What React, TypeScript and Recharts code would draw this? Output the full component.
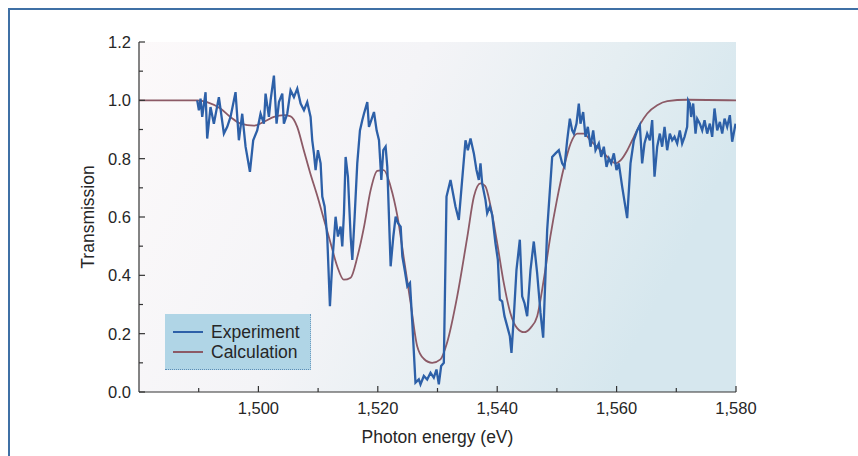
import { Line, LineChart, ReferenceArea, XAxis, YAxis } from 'recharts';

// Transmission spectrum: noisy measured trace vs smooth calculated curve.
// Energies as printed on the axis ("1,500" etc).

const xTicks = [1490, 1500, 1510, 1520, 1530, 1540, 1550, 1560, 1570, 1580];
const yTicks = [0, 0.1, 0.2, 0.3, 0.4, 0.5, 0.6, 0.7, 0.8, 0.9, 1.0, 1.1, 1.2];

// [photon energy, transmission]
const experiment: [number, number][] = [
  [1489.75, 1.0], [1490.03, 0.966], [1490.31, 1.006], [1490.59, 0.943], [1491.15, 1.028],
  [1491.42, 0.869], [1491.98, 0.977], [1492.54, 0.92], [1493.38, 1.011], [1494.22, 0.886],
  [1494.78, 0.909], [1495.33, 0.943], [1496.17, 1.028], [1496.73, 0.863], [1497.29, 0.954],
  [1497.85, 0.841], [1498.58, 0.755], [1499.13, 0.863], [1499.8, 0.897], [1500.36, 0.954],
  [1500.92, 0.92], [1501.2, 1.023], [1501.76, 0.943], [1502.04, 1.0], [1502.6, 1.085],
  [1503.04, 0.92], [1503.44, 0.994], [1504.0, 1.023], [1504.27, 0.92], [1504.83, 0.954],
  [1505.39, 1.034], [1505.95, 1.011], [1506.51, 1.04], [1507.07, 0.989], [1507.63, 0.966],
  [1508.18, 0.994], [1508.74, 0.943], [1509.02, 0.863], [1509.3, 0.818], [1509.58, 0.761],
  [1509.97, 0.829], [1510.42, 0.784], [1510.7, 0.67], [1511.09, 0.636], [1511.53, 0.533],
  [1511.98, 0.294], [1512.37, 0.442], [1512.93, 0.601], [1513.32, 0.533], [1513.77, 0.567],
  [1514.05, 0.499], [1514.33, 0.613], [1514.61, 0.806], [1515.0, 0.738], [1515.45, 0.533],
  [1515.73, 0.453], [1516.12, 0.601], [1516.56, 0.784], [1517.01, 0.897], [1517.4, 0.932],
  [1517.68, 0.954], [1518.24, 0.994], [1518.52, 0.909], [1518.91, 0.932], [1519.36, 0.96],
  [1519.8, 0.897], [1520.2, 0.863], [1520.59, 0.727], [1520.92, 0.829], [1521.31, 0.841],
  [1521.59, 0.772], [1522.15, 0.431], [1522.6, 0.533], [1522.99, 0.601], [1523.38, 0.579],
  [1523.83, 0.567], [1524.11, 0.465], [1524.5, 0.419], [1524.95, 0.362], [1525.39, 0.374],
  [1525.78, 0.237], [1526.31, 0.032], [1526.87, 0.043], [1527.15, 0.026], [1527.71, 0.055],
  [1528.27, 0.043], [1528.83, 0.066], [1529.38, 0.049], [1529.83, 0.077], [1530.22, 0.026],
  [1530.61, 0.089], [1531.06, 0.1], [1531.51, 0.67], [1532.18, 0.727], [1533.01, 0.636],
  [1533.57, 0.59], [1534.13, 0.727], [1534.69, 0.863], [1535.08, 0.829], [1535.53, 0.869],
  [1536.09, 0.818], [1536.53, 0.761], [1536.92, 0.727], [1537.2, 0.784], [1537.48, 0.715],
  [1538.04, 0.658], [1538.32, 0.613], [1538.77, 0.636], [1539.16, 0.607], [1539.71, 0.51],
  [1540.11, 0.453], [1540.44, 0.317], [1540.83, 0.311], [1541.22, 0.26], [1541.67, 0.226],
  [1542.12, 0.191], [1542.39, 0.134], [1542.79, 0.26], [1543.23, 0.419], [1543.79, 0.522],
  [1544.18, 0.328], [1544.57, 0.305], [1545.02, 0.26], [1545.58, 0.419], [1546.13, 0.516],
  [1546.69, 0.408], [1547.25, 0.271], [1547.7, 0.186], [1548.37, 0.556], [1549.21, 0.806],
  [1549.77, 0.818], [1550.32, 0.829], [1550.88, 0.784], [1551.27, 0.772], [1551.72, 0.863],
  [1552.17, 0.937], [1552.56, 0.897], [1552.84, 0.886], [1553.28, 0.92], [1553.67, 0.989],
  [1553.95, 0.92], [1554.4, 0.96], [1554.79, 0.875], [1555.18, 0.909], [1555.63, 0.841],
  [1556.08, 0.897], [1556.47, 0.829], [1557.02, 0.852], [1557.42, 0.806], [1557.86, 0.841],
  [1558.31, 0.772], [1558.7, 0.801], [1559.09, 0.784], [1559.54, 0.818], [1559.98, 0.761],
  [1560.37, 0.784], [1560.93, 0.704], [1561.77, 0.596], [1562.33, 0.784], [1562.89, 0.863],
  [1563.45, 0.897], [1563.89, 0.915], [1564.28, 0.784], [1564.67, 0.852], [1565.12, 0.886],
  [1565.57, 0.863], [1565.96, 0.932], [1566.35, 0.738], [1566.8, 0.841], [1567.24, 0.886],
  [1567.63, 0.841], [1568.03, 0.909], [1568.47, 0.829], [1568.92, 0.886], [1569.31, 0.863],
  [1569.7, 0.875], [1570.15, 0.852], [1570.59, 0.897], [1570.98, 0.852], [1571.38, 0.875],
  [1571.82, 0.909], [1571.99, 1.0], [1572.27, 0.989], [1572.49, 0.943], [1572.83, 0.989],
  [1573.22, 0.886], [1573.5, 0.937], [1573.94, 0.92], [1574.34, 0.897], [1574.73, 0.932],
  [1575.17, 0.886], [1575.62, 0.92], [1576.01, 0.875], [1576.4, 0.972], [1576.85, 0.897],
  [1577.3, 0.926], [1577.69, 0.886], [1578.08, 0.937], [1578.52, 0.909], [1578.97, 0.949],
  [1579.36, 0.858], [1579.92, 0.92],
];

const calculation: [number, number][] = [
  [1480, 1.0], [1489.8, 1.0], [1491.4, 0.994], [1493.7, 0.971], [1495.3, 0.943],
  [1497.0, 0.92], [1499.25, 0.913], [1500.9, 0.926], [1502.6, 0.943], [1504.3, 0.949],
  [1505.4, 0.945], [1506.5, 0.909], [1507.6, 0.829], [1508.7, 0.749], [1509.9, 0.67],
  [1511.0, 0.59], [1512.1, 0.51], [1513.2, 0.431], [1514.3, 0.385], [1515.45, 0.392],
  [1516.6, 0.465], [1517.7, 0.567], [1518.8, 0.692], [1519.9, 0.758], [1521.0, 0.761],
  [1522.15, 0.704], [1523.3, 0.601], [1524.4, 0.453], [1525.5, 0.305], [1526.6, 0.157],
  [1527.7, 0.114], [1529.1, 0.1], [1530.5, 0.112], [1531.6, 0.169], [1533.3, 0.328],
  [1535.0, 0.533], [1536.1, 0.67], [1537.2, 0.715], [1538.0, 0.706], [1538.9, 0.636],
  [1540.0, 0.51], [1541.1, 0.374], [1542.2, 0.271], [1543.3, 0.22], [1544.5, 0.205],
  [1545.6, 0.22], [1546.7, 0.26], [1547.8, 0.385], [1548.9, 0.533], [1550.0, 0.658],
  [1551.2, 0.772], [1552.3, 0.852], [1553.4, 0.886], [1554.5, 0.886], [1555.6, 0.863],
  [1556.7, 0.841], [1557.9, 0.818], [1559.0, 0.795], [1559.8, 0.784], [1560.7, 0.795],
  [1561.8, 0.829], [1562.9, 0.875], [1564.0, 0.92], [1565.1, 0.954], [1566.8, 0.983],
  [1568.5, 0.997], [1571.8, 1.002], [1580, 1.0],
];

const expData = experiment.map(([e, t]) => ({ e, t }));
const calcData = calculation.map(([e, t]) => ({ e, t }));

const FONT = '"Liberation Sans", Arial, sans-serif';
const INK = '#262626';
const AXIS = '#333333';
const EXP_COLOR = '#2d60a8';
const CALC_COLOR = '#8c5a66';

function YTick(props: any) {
  const { x, y, payload } = props;
  const v = payload.value as number;
  const major = Math.round(v * 10) % 2 === 0;
  return (
    <g>
      <line x1={x} y1={y} x2={x + (major ? 6 : 4)} y2={y} stroke={AXIS} strokeWidth={1.2} />
      {major && (
        <text x={x - 8} y={y} dy="0.36em" textAnchor="end" fontSize={16.5} fill={INK} fontFamily={FONT}>
          {v.toFixed(1)}
        </text>
      )}
    </g>
  );
}

function XTick(props: any) {
  const { x, y, payload } = props;
  const v = payload.value as number;
  const major = v % 20 === 0;
  return (
    <g>
      <line x1={x} y1={y} x2={x} y2={y - (major ? 6 : 4)} stroke={AXIS} strokeWidth={1.2} />
      {major && (
        <text x={x} y={y + 22} textAnchor="middle" fontSize={16.5} fill={INK} fontFamily={FONT}>
          {v.toLocaleString('en-US')}
        </text>
      )}
    </g>
  );
}

export default function App() {
  return (
    <div style={{ position: 'absolute', left: 0, top: 0, width: 858, height: 456, overflow: 'hidden', background: '#fff', fontFamily: FONT }}>
      <div style={{ position: 'absolute', left: 8, top: 8, width: 850, height: 1.5, background: '#3f70a5' }} />
      <div style={{ position: 'absolute', left: 8, top: 8, width: 1.5, height: 448, background: '#3f70a5' }} />
      <LineChart width={858} height={456} margin={{ top: 42, right: 122, bottom: 0, left: 0 }}>
        <defs>
          <linearGradient id="plotBg" x1="0" y1="0" x2="1" y2="0.3">
            <stop offset="0%" stopColor="#fcf9fa" />
            <stop offset="45%" stopColor="#f4f4f7" />
            <stop offset="75%" stopColor="#e5eef2" />
            <stop offset="100%" stopColor="#d6e7ee" />
          </linearGradient>
        </defs>
        <ReferenceArea x1={1480} x2={1580} y1={0} y2={1.2} fill="url(#plotBg)" fillOpacity={1} stroke="none" />
        <XAxis
          type="number"
          dataKey="e"
          domain={[1480, 1580]}
          ticks={xTicks}
          interval={0}
          height={64}
          tickSize={0}
          tickMargin={0}
          tickLine={false}
          tick={<XTick />}
          axisLine={{ stroke: AXIS, strokeWidth: 1.2 }}
          allowDataOverflow
          label={{ value: 'Photon energy (eV)', position: 'center', dy: 13, fontSize: 17.5, fill: INK, fontFamily: FONT }}
        />
        <YAxis
          type="number"
          dataKey="t"
          domain={[0, 1.2]}
          ticks={yTicks}
          interval={0}
          width={139}
          tickSize={0}
          tickMargin={0}
          tickLine={false}
          tick={<YTick />}
          axisLine={{ stroke: AXIS, strokeWidth: 1.2 }}
          allowDataOverflow
          label={{ value: 'Transmission', angle: -90, position: 'center', dx: 18, fontSize: 17.5, fill: INK, fontFamily: FONT }}
        />
        <Line data={calcData} dataKey="t" type="monotone" stroke={CALC_COLOR} strokeWidth={1.8} dot={false} isAnimationActive={false} />
        <Line data={expData} dataKey="t" type="linear" stroke={EXP_COLOR} strokeWidth={2.3} dot={false} isAnimationActive={false} />
      </LineChart>
      <div
        style={{
          position: 'absolute',
          left: 165,
          top: 314,
          width: 146,
          height: 56,
          background: '#b0d5e6',
          borderBottom: '1.5px dotted #5a8cb6',
          borderRight: '1px dotted #6f9cc0',
          boxSizing: 'border-box',
          color: INK,
          fontSize: 17.5,
        }}
      >
        {[
          { name: 'Experiment', color: EXP_COLOR, cy: 18 },
          { name: 'Calculation', color: CALC_COLOR, cy: 38 },
        ].map((it) => (
          <div key={it.name}>
            <div style={{ position: 'absolute', left: 8, top: it.cy - 1, width: 30, height: 2.2, background: it.color }} />
            <div style={{ position: 'absolute', left: 46, top: it.cy - 11, lineHeight: '22px', whiteSpace: 'nowrap' }}>{it.name}</div>
          </div>
        ))}
      </div>
    </div>
  );
}
